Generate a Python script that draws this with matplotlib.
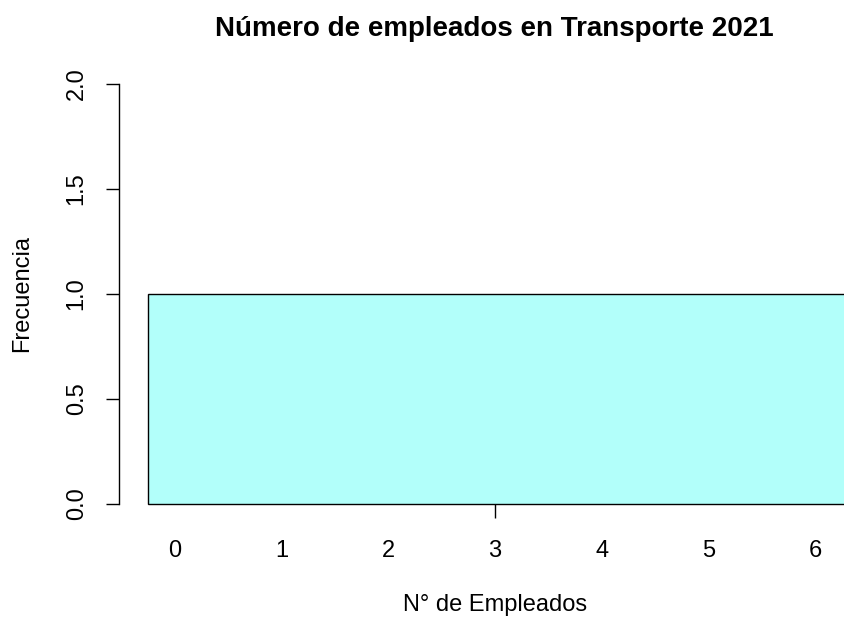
import matplotlib
matplotlib.use("Agg")
import matplotlib.pyplot as plt

# Data
bin_left = [-0.25]
bin_width = [6.85]
counts = [1]
x_labels = ["0", "1", "2", "3", "4", "5", "6"]
x_tick_marked = 3
y_ticks = [0.0, 0.5, 1.0, 1.5, 2.0]

plt.rcParams['font.family'] = ['Liberation Sans', 'DejaVu Sans']

W, H = 845, 619
fig = plt.figure(figsize=(W / 100, H / 100), dpi=100)

def fx(px):
    return px / W

def fy(py):
    return 1 - py / H

ax_left, ax_right, ax_top, ax_bot = 119, 845, 84, 504
ax = fig.add_axes([fx(ax_left), fy(ax_bot), fx(ax_right) - fx(ax_left), fy(ax_top) - fy(ax_bot)])

ax.bar(bin_left, counts, width=bin_width, align='edge', color='#B2FFFA',
       edgecolor='black', linewidth=1.0, clip_on=False)

ax.set_ylim(0, 2)
ax.set_xlim(-0.525, 6.28)

for s in ['top', 'right', 'bottom']:
    ax.spines[s].set_visible(False)
ax.spines['left'].set_bounds(0, 2)
ax.spines['left'].set_linewidth(1.0)

ax.set_yticks(y_ticks)
ax.set_yticklabels([f"{v:.1f}" for v in y_ticks], rotation=90, va='center', fontsize=17)
ax.tick_params(axis='y', length=9.5, width=1.0, pad=13)

ax.set_xticks(range(len(x_labels)))
ax.set_xticklabels(x_labels, fontsize=17)
ax.tick_params(axis='x', which='major', length=10, width=1.0, pad=16)
for i, t in enumerate(ax.xaxis.get_major_ticks()):
    if i != x_tick_marked:
        t.tick1line.set_visible(False)

fig.text(fx(494), fy(29), "Número de empleados en Transporte 2021", ha='center', va='center',
         fontsize=20, fontweight='bold')
fig.text(fx(495), fy(605), "N° de Empleados", ha='center', va='center', fontsize=17)
fig.text(fx(22), fy(294), "Frecuencia", ha='center', va='center', fontsize=17, rotation=90)

fig.savefig("out.png", dpi=100)
